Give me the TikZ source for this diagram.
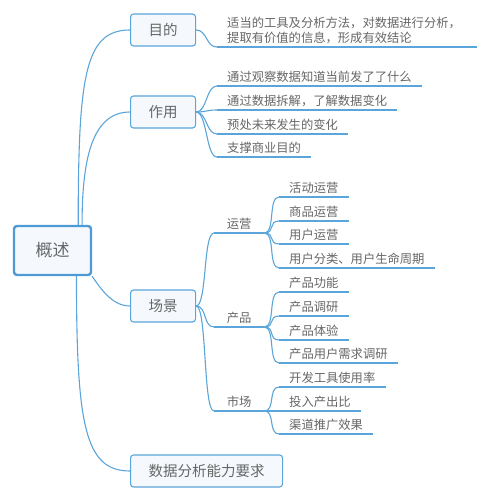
\documentclass[tikz,border=0pt]{standalone}
\usepackage{fontspec}
\setmainfont{Noto Sans CJK SC}
\definecolor{mapline}{HTML}{5AA5DA}
\definecolor{mapedge}{HTML}{4D9AD4}
\definecolor{mapfill}{HTML}{F5F9FE}
\definecolor{maptext}{HTML}{666666}

\begin{document}
\begin{tikzpicture}[x=1pt,y=-1pt,
  branch/.style={draw=mapline,line width=1.1pt},
  central/.style={draw=mapedge,line width=2.4pt,fill=mapfill,rounded corners=3pt,
    minimum width=77pt,minimum height=49pt,text=maptext,font=\fontsize{17}{20}\selectfont},
  topic/.style={draw=mapline,line width=1.1pt,fill=mapfill,rounded corners=3pt,
    minimum width=65pt,minimum height=32pt,inner xsep=18pt,text=maptext,
    font=\fontsize{14.5}{17}\selectfont,anchor=west},
  leaf/.style={inner xsep=10pt,inner ysep=3pt,anchor=south west,text=maptext,
    font=\fontsize{12.3}{15}\selectfont},
  sub/.style={leaf,inner xsep=0pt,minimum width=50pt}]
  \useasboundingbox (0,0) rectangle (489,500);

  \node[central] (root) at (52.5,250.5) {概述};
  \node[topic] (goal) at (130,30) {目的};
  \node[topic] (use) at (130,112) {作用};
  \node[topic] (scene) at (130,306) {场景};
  \node[topic] (skill) at (130,471) {数据分析能力要求};

  \node[leaf,text width=240pt,align=left] (goal1) at (217,47)
    {适当的工具及分析方法，对数据进行分析，\\提取有价值的信息，形成有效结论};

  \node[leaf] (use1) at (217,86) {通过观察数据知道当前发了了什么};
  \node[leaf] (use2) at (217,110) {通过数据拆解，了解数据变化};
  \node[leaf] (use3) at (217,134) {预处未来发生的变化};
  \node[leaf] (use4) at (217,157) {支撑商业目的};

  \node[sub] (ops) at (214,233) {运营};
  \node[sub] (prod) at (214,327) {产品};
  \node[sub] (mkt) at (214,411) {市场};

  \node[leaf] (ops1) at (279,197) {活动运营};
  \node[leaf] (ops2) at (279,221) {商品运营};
  \node[leaf] (ops3) at (279,244) {用户运营};
  \node[leaf] (ops4) at (279,268) {用户分类、用户生命周期};

  \node[leaf] (prod1) at (279,292) {产品功能};
  \node[leaf] (prod2) at (279,316) {产品调研};
  \node[leaf] (prod3) at (279,340) {产品体验};
  \node[leaf] (prod4) at (279,363) {产品用户需求调研};

  \node[leaf] (mkt1) at (279,387) {开发工具使用率};
  \node[leaf] (mkt2) at (279,411) {投入产出比};
  \node[leaf] (mkt3) at (279,434) {渠道推广效果};

  % underlines
  \foreach \n in {goal1,use1,use2,use3,use4,ops,prod,mkt,ops1,ops2,ops3,ops4,
      prod1,prod2,prod3,prod4,mkt1,mkt2,mkt3}
    \draw[branch] (\n.south west) -- (\n.south east);

  \path[branch]
  (root.45) edge[out=90,in=180,out distance=150pt,in distance=45pt] (goal.west)
  (root.41) edge[out=90,in=180,out distance=60pt,in distance=40pt] (use.west)
  (root.-33) edge[out=-55,in=180,out distance=15pt,in distance=18pt] (scene.west)
  (root.-47) edge[out=-90,in=180,out distance=150pt,in distance=45pt] (skill.west);

  \path[branch,out=0,in=180,distance=11pt]
  (goal.east) edge (goal1.south west)
  (use.east) edge (use1.south west) edge (use2.south west)
    edge (use3.south west) edge (use4.south west)
  (scene.east) edge (ops.south west) edge (prod.south west) edge (mkt.south west)
  (ops.south east) edge (ops1.south west) edge (ops2.south west)
    edge (ops3.south west) edge (ops4.south west)
  (prod.south east) edge (prod1.south west) edge (prod2.south west)
    edge (prod3.south west) edge (prod4.south west)
  (mkt.south east) edge (mkt1.south west) edge (mkt2.south west) edge (mkt3.south west);
\end{tikzpicture}
\end{document}
